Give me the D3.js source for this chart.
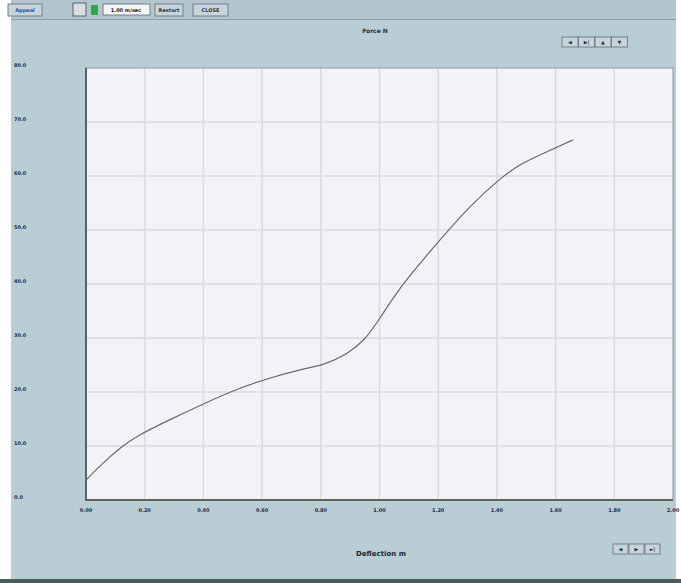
<!DOCTYPE html>
<html>
<head>
<meta charset="utf-8">
<script src="https://cdn.jsdelivr.net/npm/d3@7"></script>
<style>
  body { margin: 0; background: #fff; }
  svg { display: block; font-family: 'DejaVu Sans', sans-serif; }
</style>
</head>
<body>
<svg id="chart"></svg>
<script>
/* Deflection (m) and force (N) */
const deflection = [0.00, 0.06, 0.12, 0.17, 0.29, 0.40, 0.51, 0.63, 0.74, 0.81, 0.89, 0.95, 1.00,
                    1.07, 1.20, 1.31, 1.42, 1.48, 1.55, 1.60, 1.66]
const force = [3.7, 7.0, 9.8, 11.8, 15.0, 17.8, 20.5, 22.7, 24.3, 25.0, 27.0, 29.6, 33.5,
               39.5, 47.8, 54.6, 60.0, 62.2, 64.0, 65.2, 66.7]
const xTicks = [0, 0.2, 0.4, 0.6, 0.8, 1.0, 1.2, 1.4, 1.6, 1.8, 2.0]
const yTicks = [0, 10, 20, 30, 40, 50, 60, 70, 80]

const width = 681
const height = 583
const plot = { left: 86, right: 673, top: 68, bottom: 500 }

const svg = d3.select('#chart')
  .attr('width', width)
  .attr('height', height)

/* panel background */
svg.append('rect')
  .attr('x', 11).attr('y', 0)
  .attr('width', width - 16).attr('height', height - 4)
  .attr('fill', '#b9cdd5')
svg.append('rect')
  .attr('x', 0).attr('y', height - 4)
  .attr('width', width).attr('height', 4)
  .attr('fill', '#4a5a5e')

/* toolbar */
svg.append('rect')
  .attr('x', 11).attr('y', 0)
  .attr('width', width - 16).attr('height', 19)
  .attr('fill', '#b3c6ce')
svg.append('line')
  .attr('x1', 11).attr('x2', width - 5)
  .attr('y1', 19.5).attr('y2', 19.5)
  .attr('stroke', '#8a9ea6')

function button(x, y, w, h, label, color) {
  let g = svg.append('g').attr('transform', `translate(${x},${y})`)
  g.append('rect')
    .attr('width', w).attr('height', h)
    .attr('fill', '#c7d5db')
    .attr('stroke', '#6f8088')
  g.append('text')
    .attr('x', w / 2).attr('y', h / 2 + 2)
    .attr('text-anchor', 'middle')
    .attr('font-size', 5)
    .attr('font-weight', 'bold')
    .attr('fill', color || '#2b3440')
    .text(label)
}

button(8, 4, 34, 12, 'Appeal', '#2c4fa0')
svg.append('rect').attr('x', 73).attr('y', 3).attr('width', 13).attr('height', 13)
  .attr('fill', '#d8dde0').attr('stroke', '#55636a')
svg.append('rect').attr('x', 91).attr('y', 5).attr('width', 7).attr('height', 10)
  .attr('fill', '#2fa84a')
svg.append('rect').attr('x', 103).attr('y', 4).attr('width', 47).attr('height', 11)
  .attr('fill', '#f4f6f7').attr('stroke', '#6f8088')
svg.append('text').attr('x', 126).attr('y', 12)
  .attr('text-anchor', 'middle').attr('font-size', 5).attr('font-weight', 'bold')
  .attr('fill', '#222').text('1.00 m/sec')
button(155, 4, 28, 12, 'Restart')
button(193, 4, 35, 12, 'CLOSE')

/* plot scales */
let xScale = d3.scaleLinear()
  .domain([0, 2])
  .range([plot.left, plot.right])

let yScale = d3.scaleLinear()
  .domain([0, 80])
  .range([plot.bottom, plot.top])

/* plot area */
svg.append('rect')
  .attr('x', plot.left).attr('y', plot.top)
  .attr('width', plot.right - plot.left).attr('height', plot.bottom - plot.top)
  .attr('fill', '#f4f2f6')

/* grid lines */
svg.append('g')
  .selectAll('line')
  .data(xTicks.slice(1, -1))
  .enter()
  .append('line')
    .attr('x1', d => xScale(d)).attr('x2', d => xScale(d))
    .attr('y1', plot.top).attr('y2', plot.bottom)
    .attr('stroke', '#d9d9e2')
    .attr('stroke-width', 1.5)

svg.append('g')
  .selectAll('line')
  .data(yTicks.slice(1, -1))
  .enter()
  .append('line')
    .attr('y1', d => yScale(d)).attr('y2', d => yScale(d))
    .attr('x1', plot.left).attr('x2', plot.right)
    .attr('stroke', '#d9d9e2')
    .attr('stroke-width', 1.5)

/* border */
svg.append('rect')
  .attr('x', plot.left).attr('y', plot.top)
  .attr('width', plot.right - plot.left).attr('height', plot.bottom - plot.top)
  .attr('fill', 'none')
  .attr('stroke', '#8c9a9c')
svg.append('path')
  .attr('d', `M${plot.left},${plot.top}V${plot.bottom}H${plot.right}`)
  .attr('fill', 'none')
  .attr('stroke', '#55665f')
  .attr('stroke-width', 2)

/* tick labels */
svg.append('g')
  .selectAll('text')
  .data(yTicks)
  .enter()
  .append('text')
    .attr('x', 14)
    .attr('y', d => yScale(d) - 1)
    .attr('font-size', 5)
    .attr('font-weight', 'bold')
    .attr('fill', '#1f2c4a')
    .text(d => d3.format('.1f')(d))

svg.append('g')
  .selectAll('text')
  .data(xTicks)
  .enter()
  .append('text')
    .attr('x', d => xScale(d))
    .attr('y', plot.bottom + 12)
    .attr('text-anchor', 'middle')
    .attr('font-size', 5)
    .attr('font-weight', 'bold')
    .attr('fill', '#1f2c4a')
    .text(d => d3.format('.2f')(d))

/* curve */
let line = d3.line()
  .x(d => xScale(d[0]))
  .y(d => yScale(d[1]))
  .curve(d3.curveBasis)

svg.append('path')
  .datum(d3.zip(deflection, force))
  .attr('d', line)
  .attr('fill', 'none')
  .attr('stroke', '#69696e')
  .attr('stroke-width', 1.2)

/* titles */
svg.append('text')
  .attr('x', 375).attr('y', 33)
  .attr('text-anchor', 'middle')
  .attr('font-size', 6)
  .attr('font-weight', 'bold')
  .attr('fill', '#2a3038')
  .text('Force  N')

svg.append('text')
  .attr('x', 381).attr('y', 556)
  .attr('text-anchor', 'middle')
  .attr('font-size', 7)
  .attr('font-weight', 'bold')
  .attr('fill', '#1e2530')
  .text('Deflection  m')

/* zoom buttons */
let topBtns = ['\u25C0', '\u25B6|', '\u25B2', '\u25BC']
topBtns.forEach((b, i) => button(562 + i * 16.5, 37, 16, 10, b))
let botBtns = ['\u25C0', '\u25B6', '\u25BA|']
botBtns.forEach((b, i) => button(613 + i * 16, 544, 15, 10, b))
</script>
</body>
</html>
